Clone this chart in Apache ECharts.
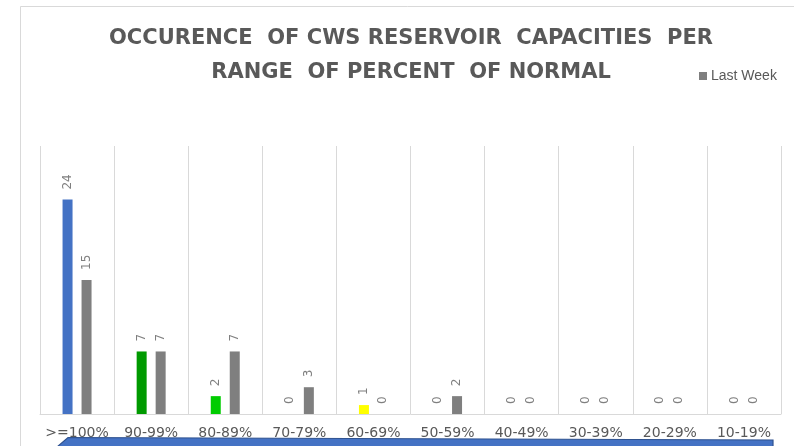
<!DOCTYPE html>
<html>
<head>
<meta charset="utf-8">
<script src="https://cdn.jsdelivr.net/npm/echarts@6/dist/echarts.min.js"></script>
<style>html,body{margin:0;padding:0;background:#fff;}#c{width:794px;height:446px;}</style>
</head>
<body>
<div id="c"></div>
<script>
const categories = ['>=100%', '90-99%', '80-89%', '70-79%', '60-69%', '50-59%', '40-49%', '30-39%', '20-29%', '10-19%'];
const thisWeek = [24, 7, 2, 0, 1, 0, 0, 0, 0, 0];
const lastWeek = [15, 7, 7, 3, 0, 2, 0, 0, 0, 0];
const thisWeekColors = ['#4472C4', '#009A00', '#00CC00', '#4472C4', '#FFFF00', '#4472C4', '#4472C4', '#4472C4', '#4472C4', '#4472C4'];
const titleText = 'OCCURENCE  OF CWS RESERVOIR  CAPACITIES  PER\nRANGE  OF PERCENT  OF NORMAL';

const chart = echarts.init(document.getElementById('c'), null, {renderer: 'canvas'});
const labelCfg = {
  show: true, position: 'top', rotate: 90, align: 'left', verticalAlign: 'middle',
  distance: 10, color: '#7F7F7F', fontSize: 12, fontFamily: 'DejaVu Sans'
};
chart.setOption({
  animation: false,
  backgroundColor: '#fff',
  title: {
    text: titleText, left: 406, top: 17, textAlign: 'center',
    textStyle: {fontFamily: 'DejaVu Sans', fontWeight: 'bold', fontSize: 21, lineHeight: 34, color: '#595959'}
  },
  legend: {
    data: ['Last Week'], left: 694, top: 64, itemWidth: 8, itemHeight: 8, itemGap: 6,
    icon: 'rect',
    textStyle: {fontFamily: 'Liberation Sans', fontSize: 14, color: '#595959', padding: [0,0,0,-1]}
  },
  grid: {left: 40, right: 13, top: 146, bottom: 32, containLabel: false},
  xAxis: {
    type: 'category', data: categories,
    axisLine: {show: true, lineStyle: {color: '#D9D9D9', width: 1}},
    axisTick: {show: false},
    splitLine: {show: true, lineStyle: {color: '#D9D9D9', width: 1}},
    axisLabel: {color: '#595959', fontSize: 14, fontFamily: 'DejaVu Sans', margin: 12, interval: 0}
  },
  yAxis: {type: 'value', min: 0, max: 30, show: false, splitLine: {show: false}},
  series: [
    {
      name: 'This Week', type: 'bar', data: thisWeek.map((v, i) => ({value: v, itemStyle: {color: thisWeekColors[i]}})),
      barWidth: 10, barGap: '90%', label: labelCfg
    },
    {
      name: 'Last Week', type: 'bar', data: lastWeek, itemStyle: {color: '#7F7F7F'},
      barWidth: 10, label: labelCfg
    }
  ],
  graphic: [
    {type: 'rect', shape: {x: 20.5, y: 6.5, width: 800, height: 460}, style: {fill: 'none', stroke: '#D9D9D9', lineWidth: 1}, silent: true},
    {type: 'polygon', shape: {points: [[57, 447], [68, 437.5], [773, 440], [773, 447]]}, style: {fill: '#4472C4', stroke: '#2F528F', lineWidth: 1.2}, silent: true}
  ]
});
</script>
</body>
</html>
